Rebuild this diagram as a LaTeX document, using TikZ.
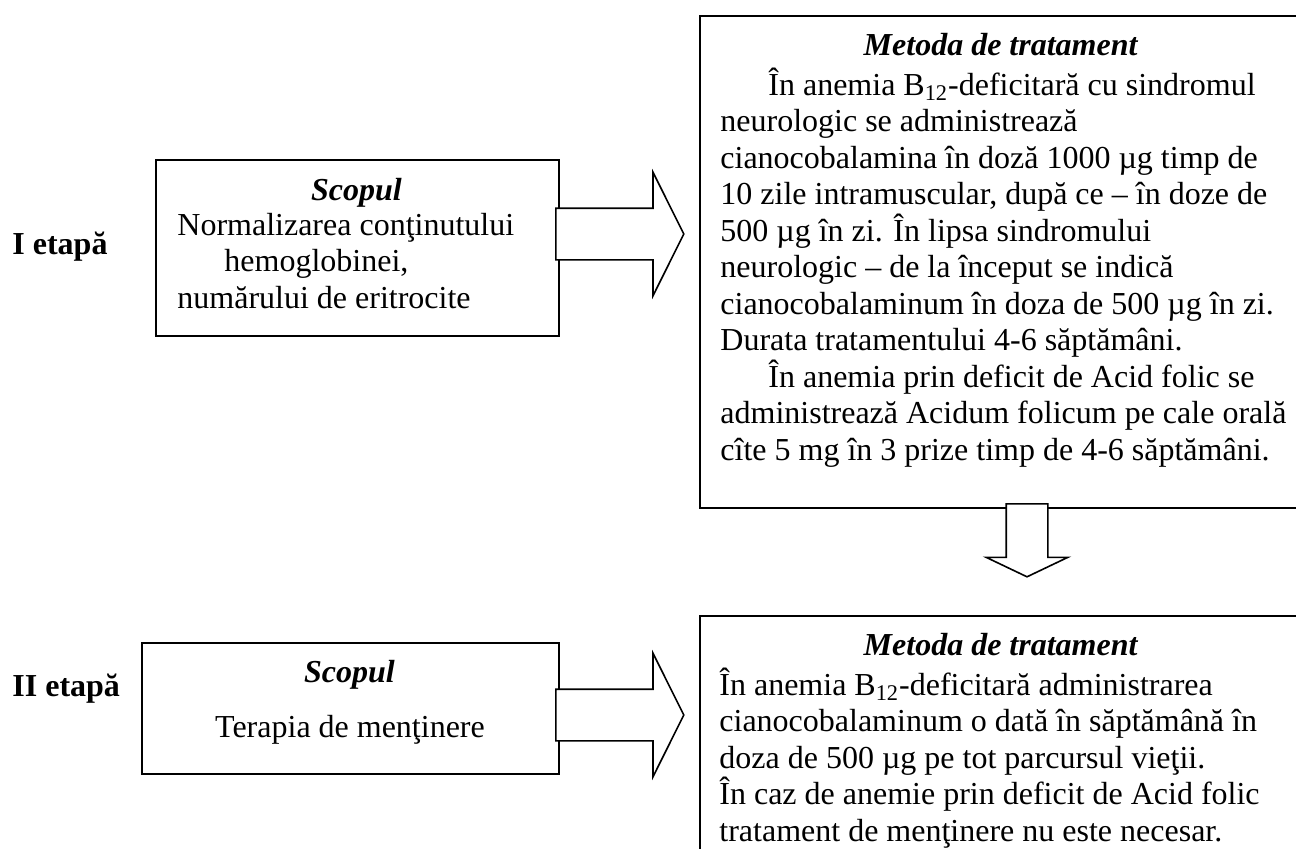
\documentclass[tikz,border=0pt]{standalone}
\usepackage{fontspec}
\setmainfont{Liberation Serif}
\usetikzlibrary{shapes.arrows, positioning}
\newcommand{\heading}[1]{\textbf{\textit{#1}}}

\begin{document}
\begin{tikzpicture}[x=0.5pt, y=-0.5pt, font=\fontsize{16}{18.25}\selectfont]
    % Styles for the frames, texts and block arrows
    \tikzstyle{frame box}=[draw, line width=1pt, inner sep=0pt, anchor=north west]
    \tikzstyle{body text}=[inner sep=0pt, align=left, anchor=north west]
    \tikzstyle{head text}=[inner sep=0pt, anchor=base]
    \tikzstyle{stage}=[inner sep=0pt, anchor=base west, font=\fontsize{16}{18.25}\selectfont\bfseries]
    \tikzstyle{block arrow}=[single arrow, draw, fill=white, line width=0.8pt, anchor=tail, single arrow head indent=0pt]

    \useasboundingbox (0,0) rectangle (1296,848);

    % Stage labels
    \node[stage] (stage1) at (12,254) {I etapă};
    \node[stage] (stage2) at (12,696) {II etapă};

    % Draw the frames
    \node[frame box, minimum width=201.5pt, minimum height=88pt] (goal1) at (155,159) {};
    \node[frame box, minimum width=208.5pt, minimum height=65.5pt] (goal2) at (141,642) {};
    \node[frame box, minimum width=302pt, minimum height=246pt] (method1) at (699,15) {};
    \node[frame box, minimum width=302pt, minimum height=150pt] (method2) at (699,615) {};

    % Texts of the first stage
    \node[head text] (goal1 head) at (356.5,200) {\heading{Scopul}};
    \node[body text] (goal1 body) at (177,209.5) {\strut Normalizarea conţinutului\\
        \hspace*{23.5pt}hemoglobinei,\\
        numărului de eritrocite};
    \node[head text] (method1 head) at (1001,55) {\heading{Metoda de tratament}};
    \node[body text] (method1 body) at (720,67.5) {\strut\hspace*{24pt}În anemia B\textsubscript{12}-deficitară cu sindromul\\
        neurologic se administrează\\
        cianocobalamina în doză 1000 µg timp de\\
        10 zile intramuscular, după ce – în doze de\\
        500 µg în zi. În lipsa sindromului\\
        neurologic – de la început se indică\\
        cianocobalaminum în doza de 500 µg în zi.\\
        Durata tratamentului 4-6 săptămâni.\\
        \hspace*{24pt}În anemia prin deficit de Acid folic se\\
        administrează Acidum folicum pe cale orală\\
        cîte 5 mg în 3 prize timp de 4-6 săptămâni.};

    % Texts of the second stage
    \node[head text] (goal2 head) at (349.5,682) {\heading{Scopul}};
    \node[head text] (goal2 body) at (350,737) {Terapia de menţinere};
    \node[head text] (method2 head) at (1001,655) {\heading{Metoda de tratament}};
    \node[body text] (method2 body) at (719,667.5) {\strut În anemia B\textsubscript{12}-deficitară administrarea\\
        cianocobalaminum o dată în săptămână în\\
        doza de 500 µg pe tot parcursul vieţii.\\
        În caz de anemie prin deficit de Acid folic\\
        tratament de menţinere nu este necesar.};

    % Draw the block arrows
    \node[block arrow, inner sep=12.5pt, minimum height=64pt, single arrow head extend=18pt,
        single arrow tip angle=127] (step1) at (555,234) {};
    \node[block arrow, inner sep=12.5pt, minimum height=64pt, single arrow head extend=18pt,
        single arrow tip angle=127] (step2) at (555,715) {};
    \node[block arrow, inner sep=10pt, minimum height=36.5pt, single arrow head extend=10pt,
        single arrow tip angle=129, shape border rotate=270] (next) at (1027,503) {};

\end{tikzpicture}
\end{document}
